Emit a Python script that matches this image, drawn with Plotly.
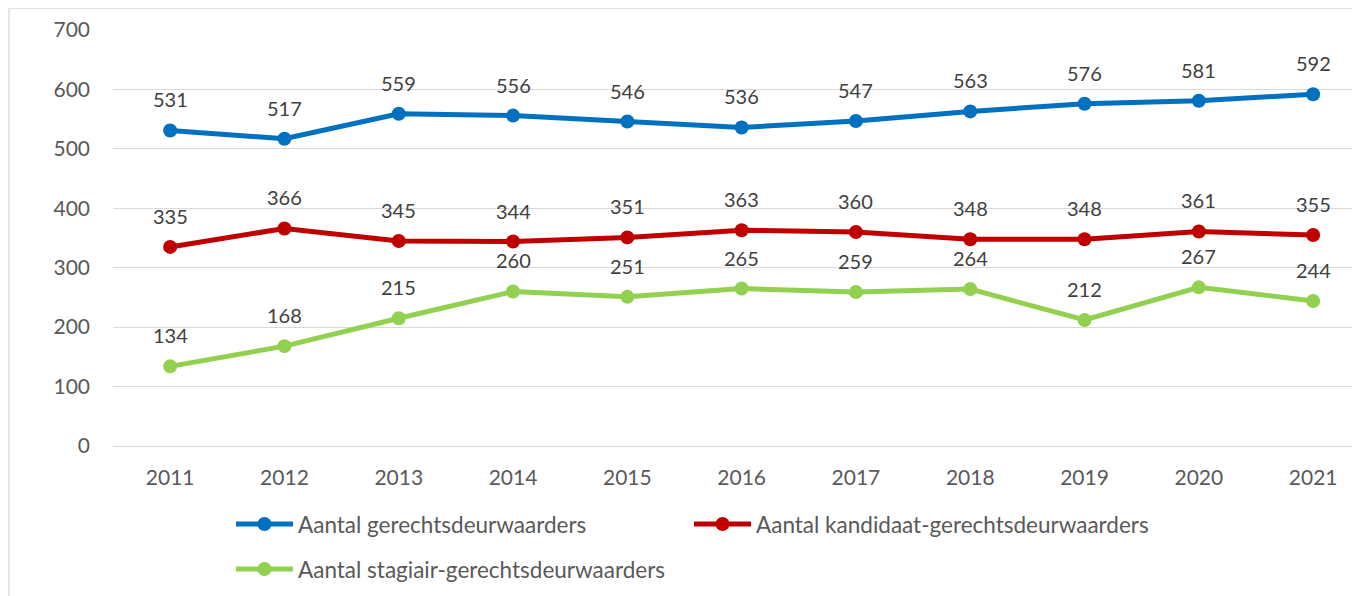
import plotly.graph_objects as go

years = ["2011", "2012", "2013", "2014", "2015", "2016", "2017", "2018", "2019", "2020", "2021"]
gerechtsdeurwaarders = [531, 517, 559, 556, 546, 536, 547, 563, 576, 581, 592]
kandidaat = [335, 366, 345, 344, 351, 363, 360, 348, 348, 361, 355]
stagiair = [134, 168, 215, 260, 251, 265, 259, 264, 212, 267, 244]

series = [
    ("Aantal gerechtsdeurwaarders", gerechtsdeurwaarders, "#0070C0", "legend"),
    ("Aantal kandidaat-gerechtsdeurwaarders", kandidaat, "#C00000", "legend3"),
    ("Aantal stagiair-gerechtsdeurwaarders", stagiair, "#92D050", "legend2"),
]

FONT = "Lato"
fig = go.Figure()
annotations = []
for name, vals, color, lg in series:
    fig.add_trace(go.Scatter(
        x=years, y=vals, name=name, mode="lines+markers",
        line=dict(color=color, width=5),
        marker=dict(color=color, size=14),
        legend=lg, showlegend=True,
    ))
    for i, v in enumerate(vals):
        annotations.append(dict(x=i, y=v, xref="x", yref="y", text=str(v), showarrow=False, yshift=31,
                                font=dict(family=FONT, size=20, color="#404040")))

legend_common = dict(orientation="h", xanchor="left", yanchor="middle", itemwidth=57, visible=True,
                     font=dict(family=FONT, size=22.5, color="#595959"), bgcolor="rgba(0,0,0,0)")

fig.update_layout(
    width=1360, height=596,
    showlegend=True,
    margin=dict(l=105, r=8, t=22, b=157.5),
    paper_bgcolor="white", plot_bgcolor="white",
    font=dict(family=FONT, size=21, color="#595959"),
    annotations=annotations,
    legend=dict(x=0.0946, y=-0.1885, **legend_common),
    legend3=dict(x=0.4619, y=-0.1885, **legend_common),
    legend2=dict(x=0.0946, y=-0.2965, **legend_common),
    shapes=[dict(type="rect", xref="paper", yref="paper", x0=-0.0834, x1=1.2, y0=-0.6, y1=1.0528,
                 line=dict(color="#d9d9d9", width=1.3), fillcolor="rgba(0,0,0,0)", layer="below")],
)
fig.update_xaxes(type="category", range=[-0.5, 10.41], showgrid=False, showline=False,
                 zeroline=False, ticks="", ticklabelstandoff=17,
                 tickfont=dict(family=FONT, size=21, color="#595959"))
fig.update_yaxes(range=[0, 700], dtick=100, showgrid=True, gridcolor="#d9d9d9", gridwidth=1.3,
                 zeroline=True, zerolinecolor="#d9d9d9", zerolinewidth=1.3, showline=False,
                 ticks="", ticklabelstandoff=22,
                 tickfont=dict(family=FONT, size=21, color="#595959"))

fig.write_html("out.html")
